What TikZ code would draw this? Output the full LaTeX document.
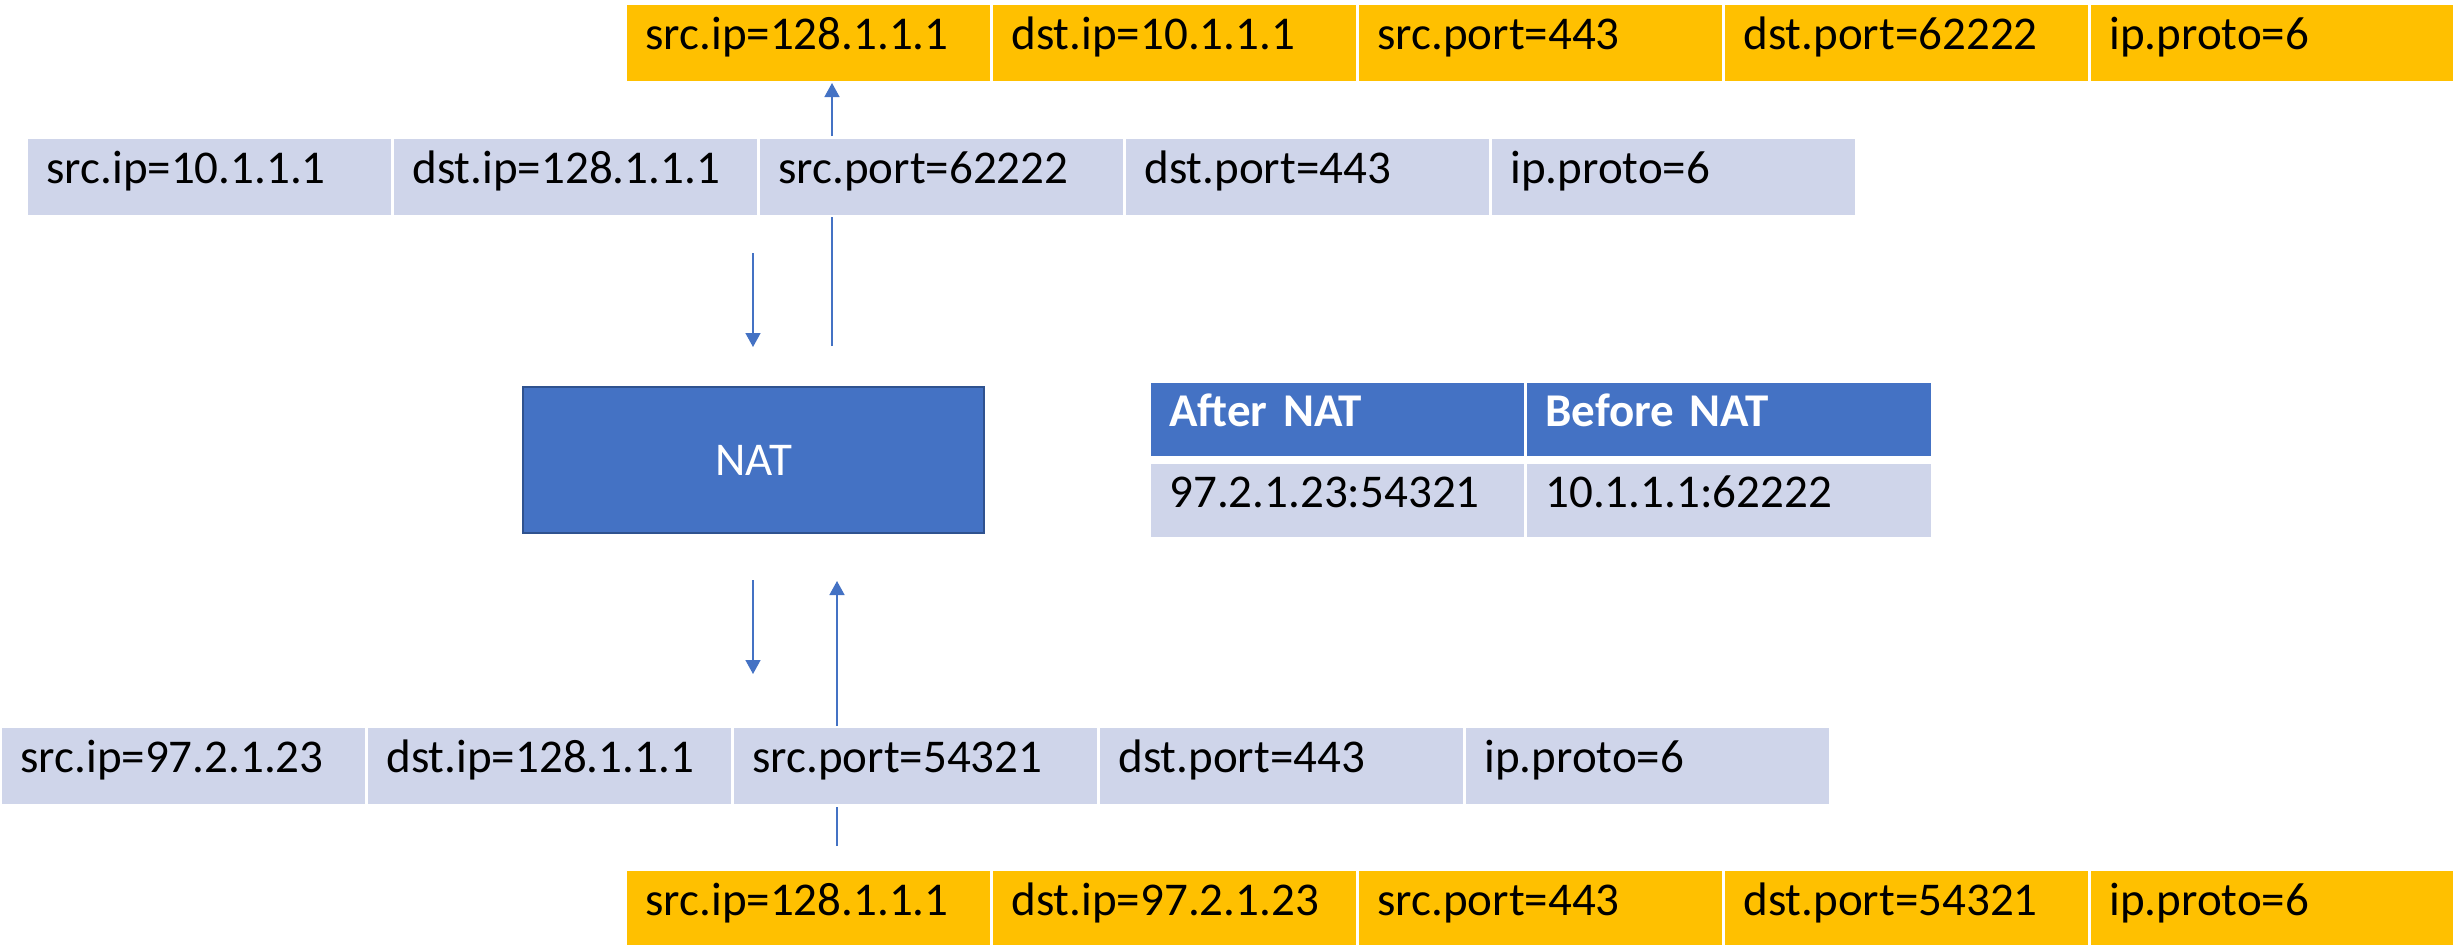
\documentclass[tikz,border=0pt]{standalone}
\usepackage{fontspec}
\setmainfont{Carlito}
\usetikzlibrary{arrows.meta}

\definecolor{pktorange}{HTML}{FFC000}
\definecolor{pktlav}{HTML}{CFD5EA}
\definecolor{natblue}{HTML}{4472C4}
\definecolor{natedge}{HTML}{2F528F}

\tikzset{
  field/.style={anchor=north west, inner xsep=9pt, inner ysep=0pt,
    text width=163.5pt, align=left, minimum width=181.5pt, minimum height=37.75pt,
    text height=0.63em, text depth=0pt,
    font=\fontsize{23.5}{28}\selectfont},
  ofield/.style={field, fill=pktorange},
  lfield/.style={field, fill=pktlav},
  tcell/.style={anchor=north west, inner xsep=9pt, inner ysep=0pt,
    align=left, minimum height=36.5pt, text height=0.63em, text depth=0pt,
    font=\fontsize{23.5}{28}\selectfont},
  thead/.style={tcell, fill=natblue, text=white, font=\fontsize{23.5}{28}\selectfont\bfseries},
  tbody/.style={tcell, fill=pktlav},
  natbox/.style={draw=natedge, line width=1.25pt, fill=natblue, text=white,
    minimum width=230.5pt, minimum height=73pt, inner sep=0pt,
    font=\fontsize{23.5}{28}\selectfont},
  flow/.style={draw=natblue, line width=0.75pt},
  flowtip/.style={flow, -{Triangle[length=7pt, width=7.5pt]}}
}

\begin{document}
\begin{tikzpicture}[x=0.5pt, y=-0.5pt]
\useasboundingbox (0,0) rectangle (2453,944);

% reply packet leaving towards the inside host
\node[ofield] (o1) at (627,5) {src.ip=128.1.1.1};
\node[ofield] (o2) at (993,5) {dst.ip=10.1.1.1};
\node[ofield] (o3) at (1359,5) {src.port=443};
\node[ofield] (o4) at (1725,5) {dst.port=62222};
\node[ofield] (o5) at (2091,5) {ip.proto=6};

% packet from the inside host
\node[lfield] (a1) at (28,139) {src.ip=10.1.1.1};
\node[lfield] (a2) at (394,139) {dst.ip=128.1.1.1};
\node[lfield] (a3) at (760,139) {src.port=62222};
\node[lfield] (a4) at (1126,139) {dst.port=443};
\node[lfield] (a5) at (1492,139) {ip.proto=6};

% translator
\node[natbox] (nat) at (753.5,460) {NAT};

% translation table
\node[thead, text width=168.5pt] (h1) at (1151,383) {After NAT};
\node[thead, text width=184pt] (h2) at (1527,383) {Before NAT};
\node[tbody, text width=168.5pt] (t1) at (1151,464) {97.2.1.23:54321};
\node[tbody, text width=184pt] (t2) at (1527,464) {10.1.1.1:62222};

% packet after translation
\node[lfield] (b1) at (2,728) {src.ip=97.2.1.23};
\node[lfield] (b2) at (368,728) {dst.ip=128.1.1.1};
\node[lfield] (b3) at (734,728) {src.port=54321};
\node[lfield] (b4) at (1100,728) {dst.port=443};
\node[lfield] (b5) at (1466,728) {ip.proto=6};

% reply packet arriving from outside
\node[ofield] (r1) at (627,871) {src.ip=128.1.1.1};
\node[ofield] (r2) at (993,871) {dst.ip=97.2.1.23};
\node[ofield] (r3) at (1359,871) {src.port=443};
\node[ofield] (r4) at (1725,871) {dst.port=54321};
\node[ofield] (r5) at (2091,871) {ip.proto=6};

% flow arrow end points
\coordinate (u1s) at (832,136);
\coordinate (u1e) at (832,83);
\coordinate (u2s) at (832,346);
\coordinate (u2e) at (832,217);
\coordinate (d1s) at (753,253);
\coordinate (d1e) at (753,347);
\coordinate (d2s) at (753,580);
\coordinate (d2e) at (753,674);
\coordinate (u3s) at (837,726);
\coordinate (u3e) at (837,581);
\coordinate (u4s) at (837,846);
\coordinate (u4e) at (837,807);

\draw[flowtip] (u1s) -- (u1e);
\draw[flow] (u2s) -- (u2e);
\draw[flowtip] (d1s) -- (d1e);
\draw[flowtip] (d2s) -- (d2e);
\draw[flowtip] (u3s) -- (u3e);
\draw[flow] (u4s) -- (u4e);
\end{tikzpicture}
\end{document}
